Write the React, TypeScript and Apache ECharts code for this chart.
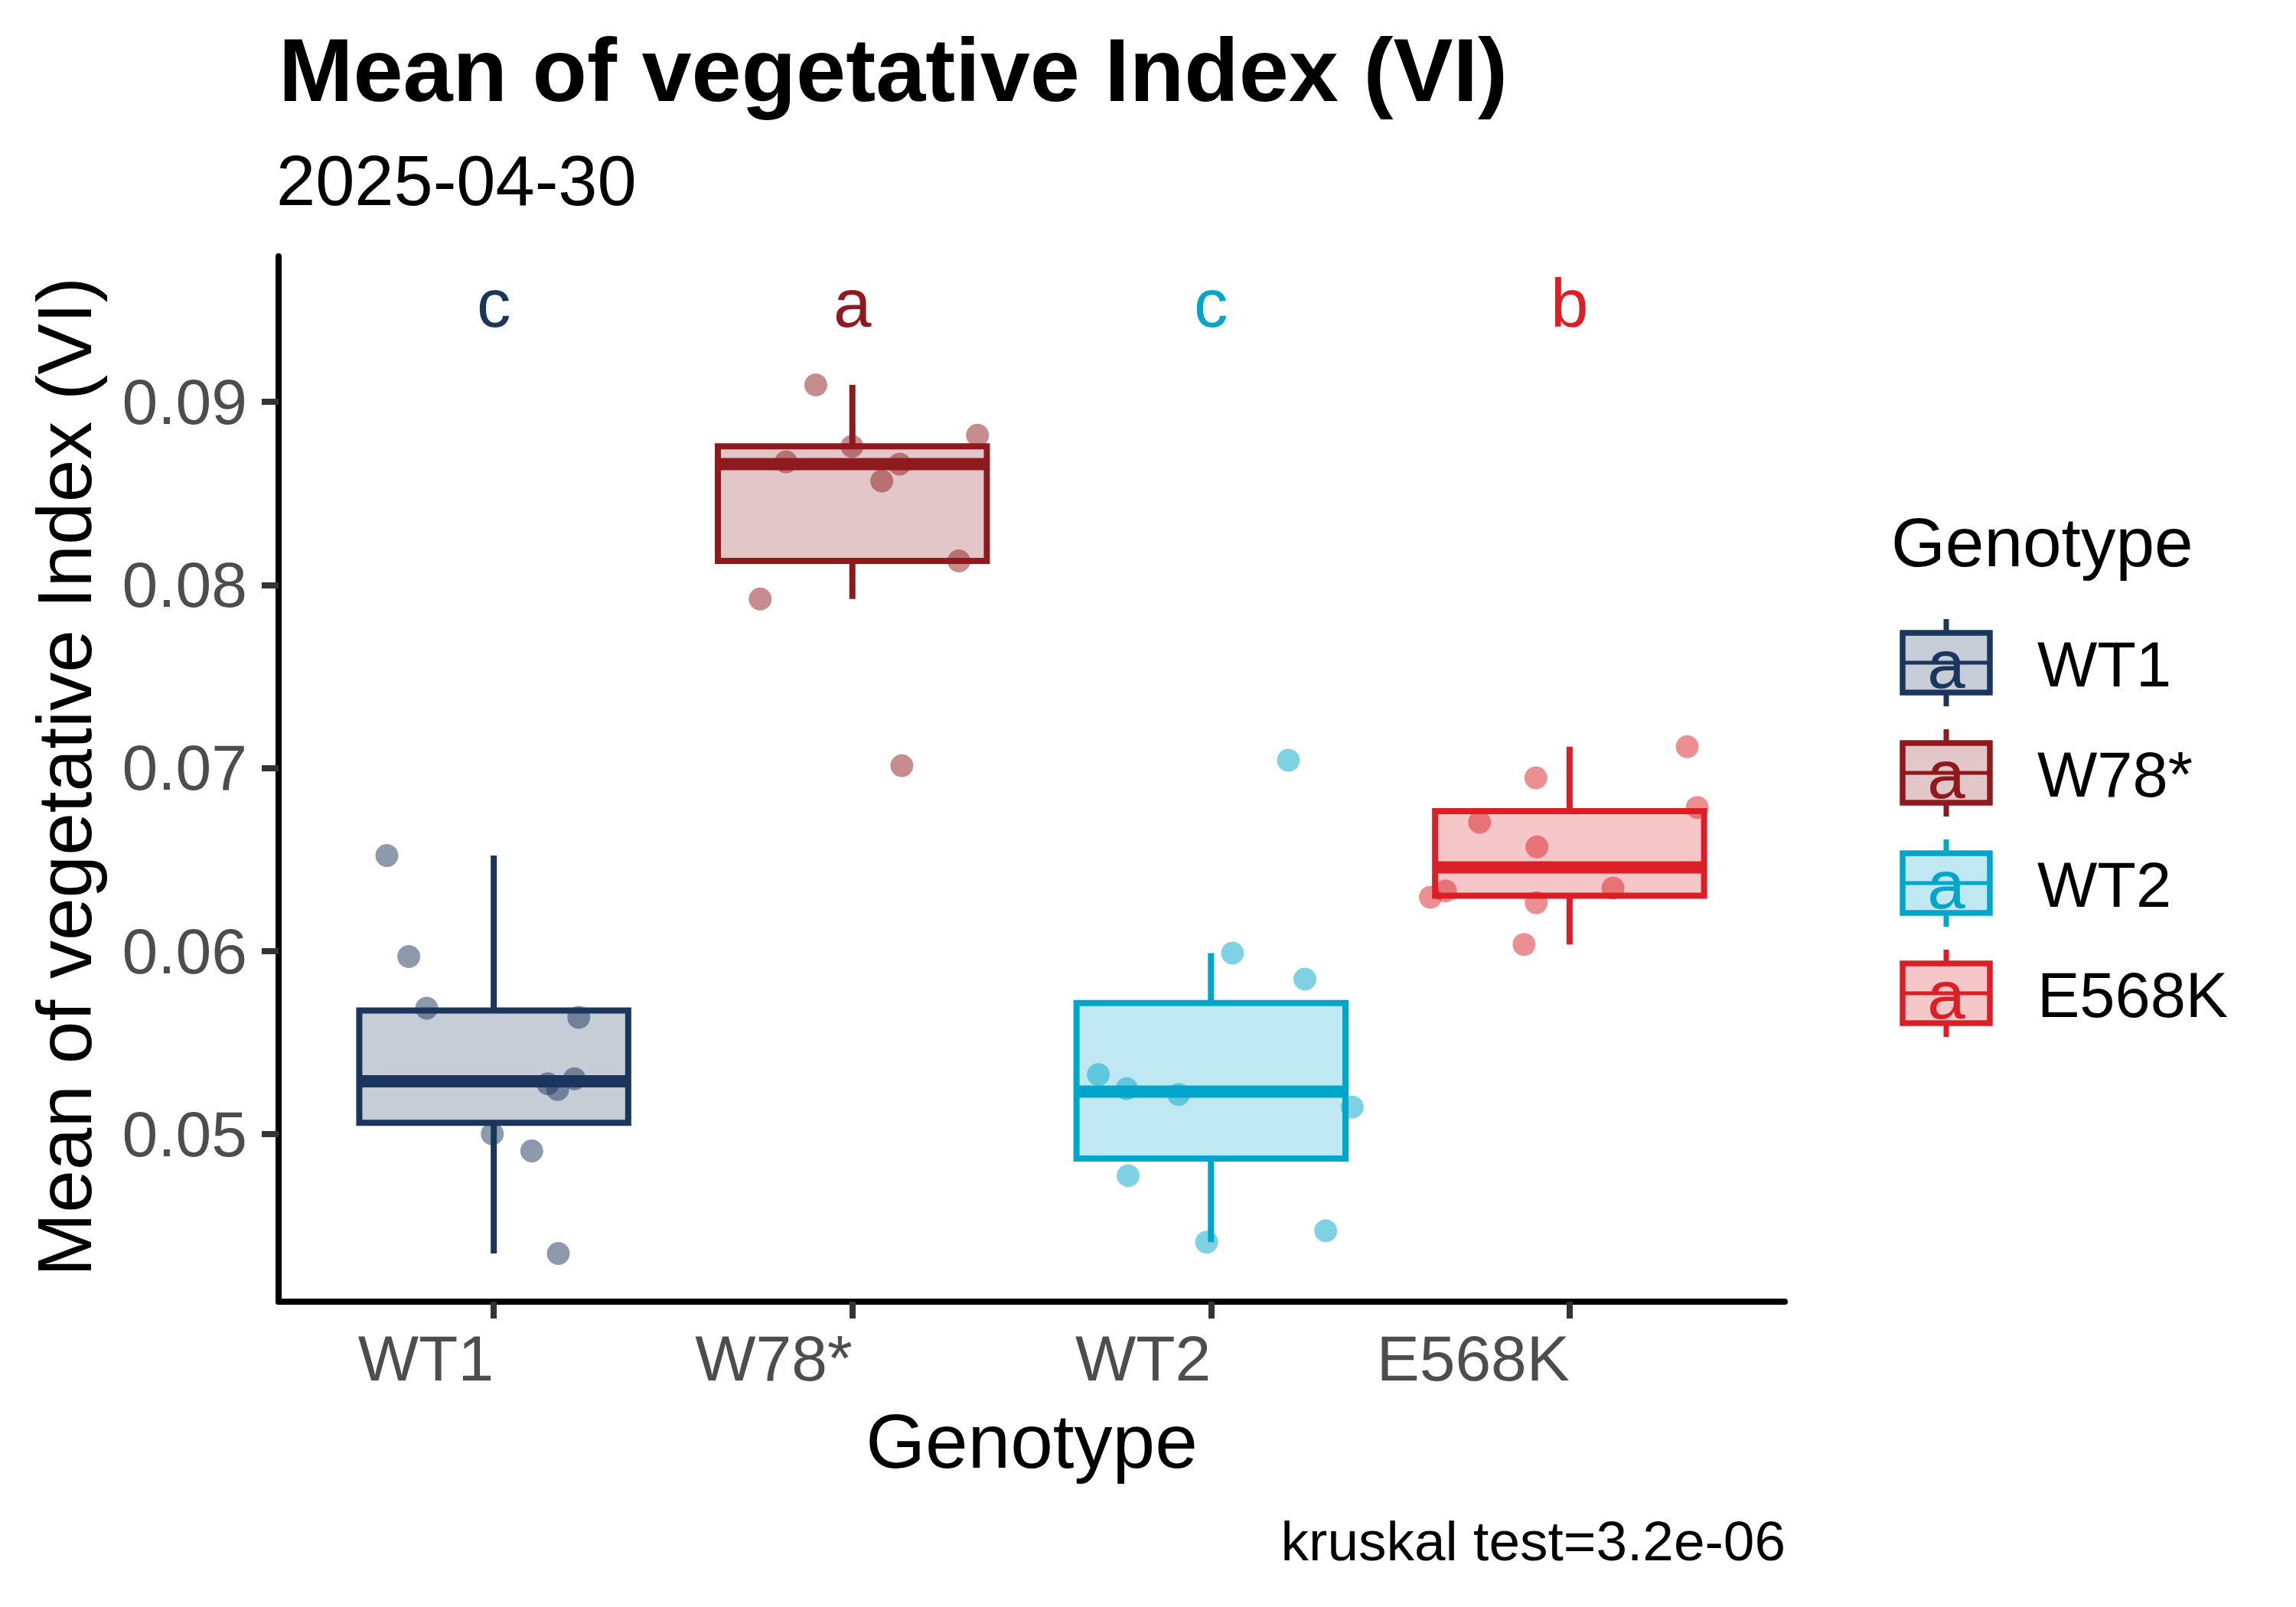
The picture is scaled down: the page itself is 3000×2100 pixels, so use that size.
import React, { useEffect, useRef } from "react";
import * as echarts from "echarts";

// ---------- data ----------
const CATEGORIES = ["WT1", "W78*", "WT2", "E568K"];
const COLORS = ["#1B365D", "#8E1A1E", "#00A5CA", "#DA1F26"];
const LETTERS = ["c", "a", "c", "b"];
const LETTER_Y = 0.0954;

const WT1_VALUES = [0.06521, 0.05969, 0.05687, 0.05637, 0.05274, 0.05243, 0.05301, 0.05, 0.04907, 0.04347];
const WT1_JITTER = [-0.298, -0.237, -0.187, 0.237, 0.151, 0.178, 0.225, -0.004, 0.106, 0.18];
const W78_VALUES = [0.09093, 0.08818, 0.08672, 0.08757, 0.0866, 0.08568, 0.08131, 0.07923, 0.07012];
const W78_JITTER = [-0.102, 0.349, -0.185, -0.001, 0.132, 0.082, 0.297, -0.257, 0.138];
const WT2_VALUES = [0.07042, 0.05988, 0.05846, 0.05324, 0.05247, 0.05216, 0.05147, 0.04772, 0.04471, 0.04409];
const WT2_JITTER = [0.216, 0.06, 0.262, -0.314, -0.235, -0.09, 0.394, -0.231, 0.32, -0.012];
const E568K_VALUES = [0.07116, 0.06946, 0.06784, 0.06703, 0.06568, 0.06293, 0.06328, 0.06344, 0.06263, 0.06035];
const E568K_JITTER = [0.328, -0.094, 0.356, -0.251, -0.091, -0.388, -0.346, 0.121, -0.093, -0.127];

const GROUP_VALUES = [WT1_VALUES, W78_VALUES, WT2_VALUES, E568K_VALUES];
const GROUP_JITTER = [WT1_JITTER, W78_JITTER, WT2_JITTER, E568K_JITTER];

const Y_TICKS = [0.05, 0.06, 0.07, 0.08, 0.09];
const X_TICKS = [0, 1, 2, 3];
const Y_MIN = 0.040837;
const Y_MAX = 0.09795;
const X_MIN = -0.6;
const X_MAX = 3.6;

const TITLE = "Mean of vegetative Index (VI)";
const SUBTITLE = "2025-04-30";
const X_TITLE = "Genotype";
const Y_TITLE = "Mean of vegetative Index (VI)";
const LEGEND_TITLE = "Genotype";
const LEGEND_KEY_LETTER = "a";
const CAPTION = "kruskal test=3.2e-06";

// ---------- helpers ----------
const FONT = '"Liberation Sans", Arial, Helvetica, sans-serif';
const BOX_WIDTH = 0.75;

function rgba(hex: string, a: number) {
  const r = parseInt(hex.slice(1, 3), 16);
  const g = parseInt(hex.slice(3, 5), 16);
  const b = parseInt(hex.slice(5, 7), 16);
  return `rgba(${r},${g},${b},${a})`;
}

function quantile(sorted: number[], p: number) {
  const h = (sorted.length - 1) * p;
  const lo = Math.floor(h);
  const hi = Math.ceil(h);
  return sorted[lo] + (h - lo) * (sorted[hi] - sorted[lo]);
}

function boxStats(values: number[]) {
  const s = [...values].sort((a, b) => a - b);
  const q1 = quantile(s, 0.25);
  const med = quantile(s, 0.5);
  const q3 = quantile(s, 0.75);
  const iqr = q3 - q1;
  const lo = Math.min(...s.filter((v) => v >= q1 - 1.5 * iqr));
  const hi = Math.max(...s.filter((v) => v <= q3 + 1.5 * iqr));
  return [lo, q1, med, q3, hi];
}

function txt(text: string, x: number, y: number, size: number, opts: any = {}) {
  const align = opts.align || "left";
  return {
    type: "text",
    x,
    y,
    rotation: opts.rotation || 0,
    silent: true,
    style: {
      text,
      fill: opts.color || "#000000",
      fontSize: size,
      fontFamily: FONT,
      fontWeight: opts.bold ? "bold" : "normal",
      align,
      textAlign: align,
      verticalAlign: "middle",
      textVerticalAlign: "middle",
    },
  };
}

export default function App() {
  const ref = useRef<HTMLDivElement>(null);

  useEffect(() => {
    if (!ref.current) return;
    const chart = echarts.init(ref.current, undefined, { renderer: "svg" });

    const boxData = GROUP_VALUES.map((vals, i) => [i, ...boxStats(vals)]);

    const scatterSeries = GROUP_VALUES.map((vals, i) => ({
      type: "scatter",
      name: CATEGORIES[i],
      z: 5,
      symbolSize: 30,
      itemStyle: { color: COLORS[i], opacity: 0.5 },
      data: vals.map((v, k) => [i + GROUP_JITTER[i][k], v]),
      silent: true,
    }));

    // legend graphics
    const legendTop = 866;
    const legendStep = 144;
    const keyCx = 2543;
    const keyW = 114;
    const keyH = 78;
    const legendEls: any[] = [txt(LEGEND_TITLE, 2471, 708, 91)];
    CATEGORIES.forEach((name, i) => {
      const cy = legendTop + legendStep * i;
      const c = COLORS[i];
      legendEls.push({
        type: "line",
        silent: true,
        shape: { x1: keyCx, y1: cy - 57, x2: keyCx, y2: cy + 57 },
        style: { stroke: c, lineWidth: 7 },
      });
      legendEls.push({
        type: "rect",
        silent: true,
        shape: { x: keyCx - keyW / 2, y: cy - keyH / 2, width: keyW, height: keyH },
        style: { fill: "#ffffff", stroke: c, lineWidth: 7 },
      });
      legendEls.push({
        type: "rect",
        silent: true,
        shape: { x: keyCx - keyW / 2, y: cy - keyH / 2, width: keyW, height: keyH },
        style: { fill: rgba(c, 0.25), stroke: c, lineWidth: 7 },
      });
      legendEls.push({
        type: "line",
        silent: true,
        shape: { x1: keyCx - keyW / 2, y1: cy, x2: keyCx + keyW / 2, y2: cy },
        style: { stroke: c, lineWidth: 5 },
      });
      legendEls.push(txt(LEGEND_KEY_LETTER, keyCx, cy + 2, 89, { color: c, align: "center" }));
      legendEls.push(txt(name, 2662, cy + 2, 83));
    });

    const option: any = {
      animation: false,
      backgroundColor: "#ffffff",
      grid: { left: 364, top: 335, width: 1968, height: 1366, containLabel: false },
      xAxis: {
        type: "value",
        min: X_MIN,
        max: X_MAX,
        splitLine: { show: false },
        axisLine: { show: true, onZero: false, lineStyle: { color: "#000000", width: 8 } },
        axisTick: {
          show: true,
          customValues: X_TICKS,
          length: 22,
          lineStyle: { color: "#333333", width: 8 },
        },
        axisLabel: {
          show: true,
          customValues: X_TICKS,
          formatter: (v: number) => CATEGORIES[Math.round(v)] ?? "",
          align: "right",
          verticalAlign: "top",
          margin: 32,
          fontSize: 84,
          fontFamily: FONT,
          color: "#4D4D4D",
        },
      },
      yAxis: {
        type: "value",
        min: Y_MIN,
        max: Y_MAX,
        splitLine: { show: false },
        axisLine: { show: true, onZero: false, lineStyle: { color: "#000000", width: 8 } },
        axisTick: {
          show: true,
          customValues: Y_TICKS,
          length: 22,
          lineStyle: { color: "#333333", width: 8 },
        },
        axisLabel: {
          show: true,
          customValues: Y_TICKS,
          formatter: (v: number) => v.toFixed(2),
          margin: 41,
          fontSize: 84,
          fontFamily: FONT,
          color: "#4D4D4D",
        },
      },
      series: [
        {
          type: "custom",
          name: "box",
          z: 2,
          silent: true,
          encode: { x: 0, y: 3 },
          data: boxData,
          renderItem: (params: any, api: any) => {
            const x = api.value(0);
            const lo = api.value(1);
            const q1 = api.value(2);
            const med = api.value(3);
            const q3 = api.value(4);
            const hi = api.value(5);
            const c = COLORS[params.dataIndex];
            const hw = api.size([BOX_WIDTH, 0])[0] / 2;
            const pLo = api.coord([x, lo]);
            const pQ1 = api.coord([x, q1]);
            const pMed = api.coord([x, med]);
            const pQ3 = api.coord([x, q3]);
            const pHi = api.coord([x, hi]);
            return {
              type: "group",
              children: [
                {
                  type: "line",
                  shape: { x1: pQ3[0], y1: pQ3[1], x2: pHi[0], y2: pHi[1] },
                  style: { stroke: c, lineWidth: 8 },
                },
                {
                  type: "line",
                  shape: { x1: pLo[0], y1: pLo[1], x2: pQ1[0], y2: pQ1[1] },
                  style: { stroke: c, lineWidth: 8 },
                },
                {
                  type: "rect",
                  shape: { x: pMed[0] - hw, y: pQ3[1], width: 2 * hw, height: pQ1[1] - pQ3[1] },
                  style: { fill: rgba(c, 0.25), stroke: c, lineWidth: 8 },
                },
                {
                  type: "line",
                  shape: { x1: pMed[0] - hw, y1: pMed[1], x2: pMed[0] + hw, y2: pMed[1] },
                  style: { stroke: c, lineWidth: 16 },
                },
              ],
            };
          },
        },
        {
          type: "custom",
          name: "letters",
          z: 3,
          silent: true,
          encode: { x: 0, y: 1 },
          data: LETTERS.map((l, i) => [i, LETTER_Y]),
          renderItem: (params: any, api: any) => {
            const p = api.coord([api.value(0), api.value(1)]);
            const c = COLORS[params.dataIndex];
            return {
              type: "text",
              x: p[0],
              y: p[1],
              style: {
                text: LETTERS[params.dataIndex],
                fill: c,
                fontSize: 89,
                fontFamily: FONT,
                align: "center",
                textAlign: "center",
                verticalAlign: "middle",
                textVerticalAlign: "middle",
              },
            };
          },
        },
        ...scatterSeries,
      ],
      graphic: [
        txt(TITLE, 364, 91, 117, { bold: true }),
        txt(SUBTITLE, 361, 236, 92),
        txt(X_TITLE, 1348, 1883, 100, { align: "center" }),
        txt(Y_TITLE, 84, 1015, 100, { align: "center", rotation: Math.PI / 2 }),
        txt(CAPTION, 2333, 2013, 73, { align: "right" }),
        ...legendEls,
      ],
    };

    chart.setOption(option);
    return () => chart.dispose();
  }, []);

  return (
    <div
      ref={ref}
      style={{ position: "fixed", left: 0, top: 0, width: 3000, height: 2100, background: "#ffffff" }}
    />
  );
}
